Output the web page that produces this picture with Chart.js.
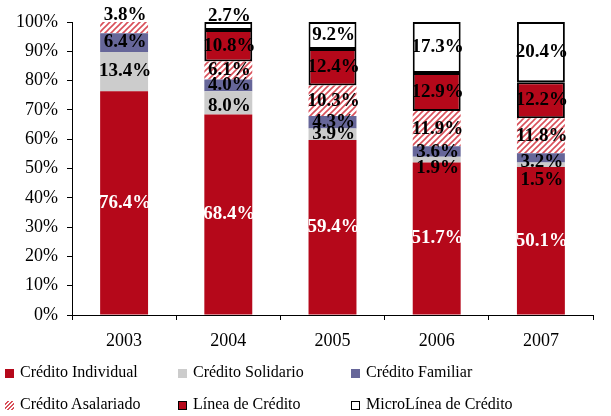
<!DOCTYPE html>
<html><head><meta charset="utf-8">
<script src="https://cdn.jsdelivr.net/npm/chart.js@4/dist/chart.umd.min.js"></script>
<style>
html,body{margin:0;padding:0;background:#fff;}
#wrap{position:relative;width:611px;height:416px;}
canvas{position:absolute;left:0;top:0;}
.lg{position:absolute;font-family:"Liberation Serif","Times New Roman",serif;font-size:16px;color:#000;white-space:nowrap;line-height:18px;}
.mk{position:absolute;width:9px;height:9px;box-sizing:border-box;}
</style>
</head><body>
<div id="wrap"><canvas id="c" width="611" height="416"></canvas><div id="legend"></div></div>
<script>
const years = ['2003','2004','2005','2006','2007'];
const individual = [76.4,68.4,59.4,51.7,50.1];
const solidario  = [13.4,8.0,3.9,1.9,1.5];
const familiar   = [6.4,4.0,4.3,3.6,3.2];
const asalariado = [3.8,6.1,10.3,11.9,11.8];
const linea      = [0,10.8,12.4,12.9,12.2];
const microlinea = [0,2.7,9.2,17.3,20.4];
const seriesNames = ['Crédito Individual','Crédito Solidario','Crédito Familiar','Crédito Asalariado','Línea de Crédito','MicroLínea de Crédito'];
const yTicks = [0,10,20,30,40,50,60,70,80,90,100];

const raw = [individual,solidario,familiar,asalariado,linea,microlinea];
const totals = years.map((_,i)=>raw.reduce((s,a)=>s+a[i],0));
const norm = a => a.map((v,i)=>v/totals[i]*100);

// label nudges (px) for small segments, [series][year]
const labelShift = [
  [0,0,0,0,0],
  [0,3,0,8,15],
  [0,0,0,1,4],
  [-12,0,0,0,0],
  [0,0,0,0,0],
  [0,-10,0,0,0]
];

function stripe(){
  const c=document.createElement('canvas');c.width=6;c.height=6;
  const x=c.getContext('2d');
  x.fillStyle='#fff';x.fillRect(0,0,6,6);
  x.strokeStyle='#d9505a';x.lineWidth=1.6;
  x.beginPath();x.moveTo(-1,7);x.lineTo(7,-1);x.moveTo(-1,1);x.lineTo(1,-1);x.moveTo(5,7);x.lineTo(7,5);x.stroke();
  return document.getElementById('c').getContext('2d').createPattern(c,'repeat');
}
const RED='#B5081A', GRAY='#CCCCCC', BLUE='#666699';
const fills=[RED,GRAY,BLUE,stripe(),RED,'#FFFFFF'];
const borders=[0,0,0,0,2,2];

const datasets = raw.map((a,k)=>({
  label:seriesNames[k], data:norm(a), backgroundColor:fills[k],
  borderColor:'#000', borderWidth:borders[k], borderSkipped:false,
  barPercentage:0.46, categoryPercentage:1
}));

const labelPlugin={id:'lbl',afterDatasetsDraw(chart){
  const ctx=chart.ctx;ctx.save();
  ctx.font='bold 19px "Liberation Serif", "Times New Roman", serif';
  ctx.textAlign='center';ctx.textBaseline='middle';
  chart.data.datasets.forEach((ds,k)=>{
    const meta=chart.getDatasetMeta(k);
    meta.data.forEach((el,i)=>{
      const v=raw[k][i]; if(!v) return;
      ctx.fillStyle = k===0 ? '#fff' : '#000';
      ctx.fillText(v.toFixed(1)+'%', el.x+1, (el.y+el.base)/2 + labelShift[k][i]);
    });
  });
  ctx.restore();
}};

const font={family:'"Liberation Serif", "Times New Roman", serif',size:18};
new Chart(document.getElementById('c'),{
  type:'bar',
  data:{labels:years,datasets},
  options:{
    responsive:false,animation:false,
    layout:{padding:{top:22,right:18,bottom:56,left:0}},
    plugins:{legend:{display:false},tooltip:{enabled:false}},
    scales:{
      x:{stacked:true,clip:false,
        grid:{offset:true,drawOnChartArea:false,tickLength:5,color:'#000'},
        border:{color:'#000',width:1},
        ticks:{color:'#000',font,padding:10},
        afterFit(s){s.height=45;}
      },
      y:{stacked:true,min:0,max:100,
        afterBuildTicks(s){s.ticks=yTicks.map(v=>({value:v}));},
        grid:{drawOnChartArea:false,tickLength:5,color:'#000'},
        border:{color:'#000',width:1},
        ticks:{color:'#000',font,padding:9,callback:v=>v+'%'},
        afterFit(s){s.width=72;}
      }
    }
  },
  plugins:[labelPlugin]
});

// HTML legend
const lg=document.getElementById('legend');
const pos=[[5,373],[178,373],[351,373],[5,405],[178,405],[351,405]];
const mkStyle=['background:'+RED,'background:'+GRAY,'background:'+BLUE,
 'background:repeating-linear-gradient(135deg,#fff 0 1.5px,#d9505a 1.5px 3px)',
 'background:'+RED+';border:1.5px solid #000','background:#fff;border:1.5px solid #000'];
seriesNames.forEach((n,k)=>{
  const m=document.createElement('div');m.className='mk';m.setAttribute('style',mkStyle[k]+';left:'+pos[k][0]+'px;top:'+(pos[k][1]-4)+'px');
  lg.appendChild(m);
  const t=document.createElement('div');t.className='lg';t.textContent=n;t.style.left=(pos[k][0]+15)+'px';t.style.top=(pos[k][1]-10)+'px';
  lg.appendChild(t);
});
</script>
</body></html>
